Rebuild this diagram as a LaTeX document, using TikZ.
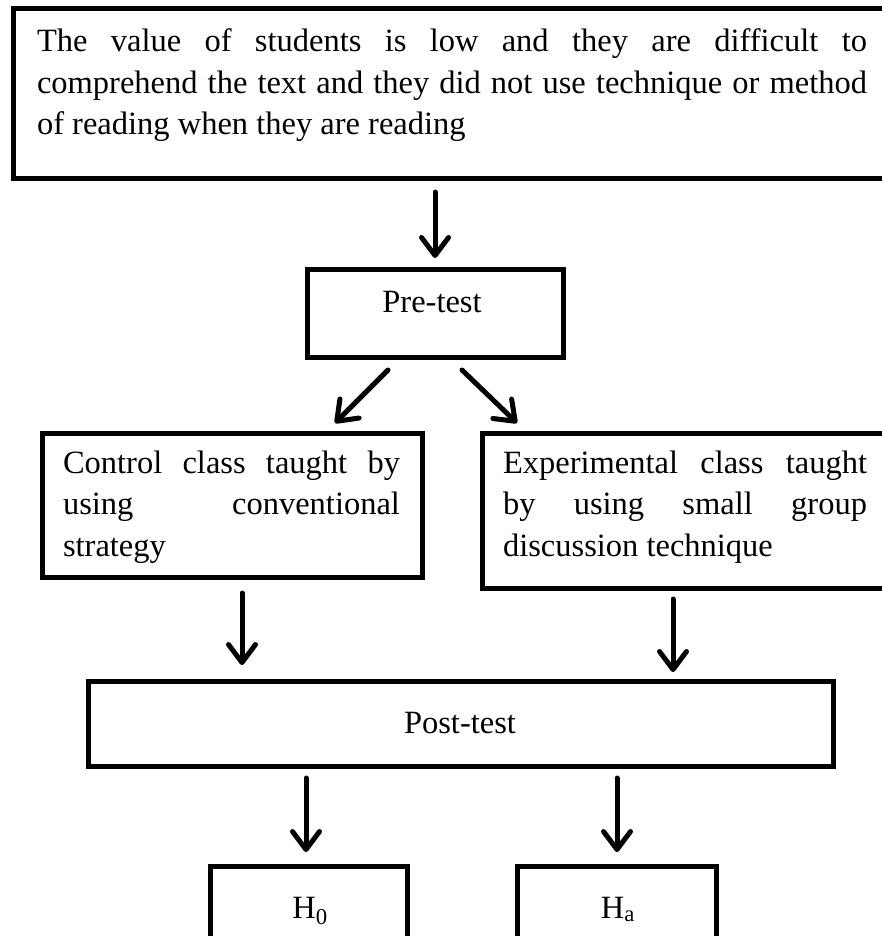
\documentclass[tikz,border=0pt]{standalone}
\usepackage{fontspec}
\setmainfont{Liberation Serif}
\usetikzlibrary{arrows.meta}
\begin{document}
\fontsize{32.5}{41.5}\selectfont
\begin{tikzpicture}[x=1pt,y=-1pt,
  box/.style={draw, line width=5pt, rectangle, inner sep=0pt, outer sep=0pt, anchor=north west},
  txt/.style={inner sep=0pt, outer sep=0pt, anchor=base west, font=\fontsize{32.5}{41.5}\selectfont},
  ctxt/.style={inner sep=0pt, outer sep=0pt, anchor=base, font=\fontsize{32.5}{41.5}\selectfont},
  arr/.style={line width=5pt, line cap=round, -{Straight Barb[length=18pt,width=27pt,line cap=round,line join=round]}}]
\useasboundingbox (0,0) rectangle (882,936);
\clip (0,0) rectangle (882,936);
\fill[white] (0,0) rectangle (882,936);
% boxes
\node[box, minimum width=882pt, minimum height=170pt] (top) at (13,9) {};
\node[box, minimum width=256pt, minimum height=88pt] (pre) at (307,269) {};
\node[box, minimum width=380pt, minimum height=144pt] (ctrl) at (42,433) {};
\node[box, minimum width=413pt, minimum height=155pt] (expe) at (482,433) {};
\node[box, minimum width=745pt, minimum height=85pt] (post) at (88,681) {};
\node[box, minimum width=197pt, minimum height=90pt] (hnull) at (210,866) {};
\node[box, minimum width=199pt, minimum height=90pt] (halt) at (517,866) {};
% texts
\node[txt] (t1) at (37,52) {\makebox[830pt][s]{The value of students is low and they are difficult to}};
\node[txt] (t2) at (37,93.5) {\makebox[830pt][s]{comprehend the text and they did not use technique or method}};
\node[txt] (t3) at (37,135) {of reading when they are reading};
\node[ctxt] (tp) at (432,312) {Pre-test};
\node[txt] (c1) at (63,473) {\makebox[337pt][s]{Control class taught by}};
\node[txt] (c2) at (63,514.5) {\makebox[337pt][s]{using conventional}};
\node[txt] (c3) at (63,556) {strategy};
\node[txt] (e1) at (503,473) {\makebox[364pt][s]{Experimental class taught}};
\node[txt] (e2) at (503,514.5) {\makebox[364pt][s]{by using small group}};
\node[txt] (e3) at (503,556) {discussion technique};
\node[ctxt] (tpost) at (460,733) {Post-test};
\node[ctxt] (th0) at (310,918) {H\textsubscript{0}};
\node[ctxt] (tha) at (618,918) {H\textsubscript{a}};
% arrow end points
\coordinate (a1s) at (435,192);   \coordinate (a1e) at (435,258);
\coordinate (a2s) at (388,370);   \coordinate (a2e) at (335,423);
\coordinate (a3s) at (462,370);   \coordinate (a3e) at (517,423);
\coordinate (a4s) at (242,593);   \coordinate (a4e) at (242,665);
\coordinate (a5s) at (673,599);   \coordinate (a5e) at (673,672);
\coordinate (a6s) at (306,778);   \coordinate (a6e) at (306,852);
\coordinate (a7s) at (617,778);   \coordinate (a7e) at (617,852);
\draw[arr] (a1s) -- (a1e);
\draw[arr] (a2s) -- (a2e);
\draw[arr] (a3s) -- (a3e);
\draw[arr] (a4s) -- (a4e);
\draw[arr] (a5s) -- (a5e);
\draw[arr] (a6s) -- (a6e);
\draw[arr] (a7s) -- (a7e);
\end{tikzpicture}
\end{document}
